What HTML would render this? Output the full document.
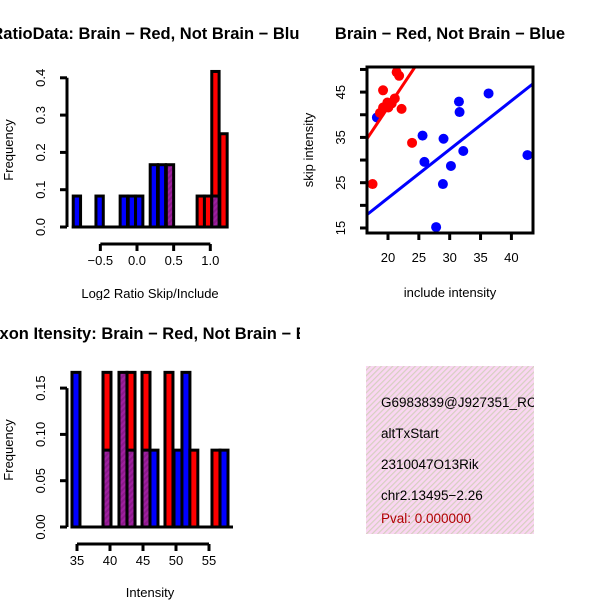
<!DOCTYPE html>
<html><head><meta charset="utf-8"><style>
body{margin:0;background:#fff}
svg{display:block;font-family:"Liberation Sans",Arial,sans-serif}
</style></head><body>
<svg id="chart" width="600" height="600" xmlns="http://www.w3.org/2000/svg">
<defs>
<pattern id="hatch" width="4" height="4" patternUnits="userSpaceOnUse" patternTransform="rotate(45)">
<rect width="4" height="4" fill="#a020a0"/><rect width="2" height="4" fill="#8b1a8b"/>
</pattern>
<pattern id="pink" width="4" height="4" patternUnits="userSpaceOnUse" patternTransform="rotate(45)">
<rect width="4" height="4" fill="#fad6f2"/><rect width="1.2" height="4" fill="#d6d0c0"/>
</pattern>
<clipPath id="cl1"><rect x="0" y="0" width="300" height="300"/></clipPath>
<clipPath id="cl3"><rect x="0" y="300" width="300" height="300"/></clipPath>
<clipPath id="sc"><rect x="367" y="67" width="166" height="166"/></clipPath>
<clipPath id="tb"><rect x="366" y="366" width="168" height="168"/></clipPath>
</defs>
<g id="p1"></g>
<g id="p2"></g>
<g id="p3"></g>
<g clip-path="url(#tb)">
<rect x="366" y="366" width="168" height="168" fill="url(#pink)"/>
<g font-size="13.5" fill="#000">
<text x="381" y="407">G6983839@J927351_RC</text>
<text x="381" y="438">altTxStart</text>
<text x="381" y="469">2310047O13Rik</text>
<text x="381" y="500">chr2.13495−2.26</text>
<text x="381" y="523" fill="#b00000">Pval: 0.000000</text>
</g></g>
</svg>
<script>
// Histogram 1 data
const h1Bins=[-0.87,-0.56,-0.23,-0.12,-0.02,0.18,0.29,0.40,0.82,0.92,1.02,1.13];
const h1Red=[0,0,0,0,0,0,0,0.167,0.083,0.083,0.417,0.25];
const h1Blue=[0.083,0.083,0.083,0.083,0.083,0.167,0.167,0.167,0,0,0.083,0];
const h1XTicks=[-0.5,0,0.5,1.0];
const h1XLabels=["−0.5","0.0","0.5","1.0"];
const h1YTicks=[0,0.1,0.2,0.3,0.4];
const h1YLabels=["0.0","0.1","0.2","0.3","0.4"];
// Histogram 2 data
const h2Bins=[34.24,38.94,41.36,42.58,44.85,46.06,48.33,49.7,50.9,52.1,55.45,56.67];
const h2Red=[0,0.167,0.167,0.167,0.167,0,0.167,0,0,0.083,0.083,0];
const h2Blue=[0.167,0.083,0.167,0.083,0.083,0.083,0,0.083,0.167,0,0,0.083];
const h2XTicks=[35,40,45,50,55];
const h2YTicks=[0,0.05,0.10,0.15];
const h2YLabels=["0.00","0.05","0.10","0.15"];
// Scatter data
const blueX=[18.2,25.6,25.9,27.8,29.0,28.9,30.2,31.5,31.6,32.2,36.3,42.6];
const blueY=[39.4,35.4,29.6,15.2,34.7,24.7,28.7,42.9,40.6,32.0,44.7,31.1];
const redX=[17.5,19.2,19.2,19.9,20.05,21.1,21.4,21.8,22.2,23.9,18.7,20.6];
const redY=[24.7,45.4,41.6,42.7,41.6,43.6,49.4,48.6,41.3,33.8,40.4,42.5];
const blueFit=[16.55,17.9,43.55,46.9];
const redFit=[16.55,34.6,24.5,50.8];
const scXTicks=[20,25,30,35,40];
const scYTicks=[15,20,25,30,35,40,45,50];
const scYLabels=["15","","25","","35","","45",""];

const NS="http://www.w3.org/2000/svg";
function mk(parent,tag,attrs,txt){const e=document.createElementNS(NS,tag);for(const k in attrs)e.setAttribute(k,attrs[k]);if(txt!==undefined)e.textContent=txt;parent.appendChild(e);return e;}
const SW=3;
function hist(g,bins,red,blue,w,xs,ys,base){
  for(let i=0;i<bins.length;i++){
    const x0=xs(bins[i]),x1=xs(bins[i]+w);
    const mx=Math.max(red[i],blue[i]),mn=Math.min(red[i],blue[i]);
    if(mx<=0)continue;
    const col=red[i]>blue[i]?'#ff0000':'#0000ff';
    const r=mk(g,'rect',{x:x0,y:ys(mx),width:x1-x0,height:base-ys(mx),fill:(red[i]===blue[i])?'url(#hatch)':col,stroke:'#000','stroke-width':SW});
    
    
    if(mn>0&&red[i]!==blue[i]){
      const p=mk(g,'rect',{x:x0,y:ys(mn),width:x1-x0,height:base-ys(mn),fill:'url(#hatch)',stroke:'#000','stroke-width':SW});
      
      
    }
  }
}
function yaxis(g,x,ticks,labels,ys){
  mk(g,'line',{x1:x,x2:x,y1:ys(ticks[0]),y2:ys(ticks[ticks.length-1]),stroke:'#000','stroke-width':SW});
  ticks.forEach((t,i)=>{
    mk(g,'line',{x1:x-7,x2:x,y1:ys(t),y2:ys(t),stroke:'#000','stroke-width':SW});
    if(labels[i]){const tx=mk(g,'text',{x:0,y:0,transform:`translate(${x-22},${ys(t)}) rotate(-90)`,'text-anchor':'middle','font-size':13},labels[i]);
    
    }
  });
}
function xaxis(g,y,ticks,labels,xs){
  mk(g,'line',{x1:xs(ticks[0]),x2:xs(ticks[ticks.length-1]),y1:y,y2:y,stroke:'#000','stroke-width':SW});
  ticks.forEach((t,i)=>{
    mk(g,'line',{x1:xs(t),x2:xs(t),y1:y,y2:y+7,stroke:'#000','stroke-width':SW});
    const tx=mk(g,'text',{x:xs(t),y:y+21,'text-anchor':'middle','font-size':13},labels[i]);
    
    
  });
}
// Panel 1
{const g=document.getElementById('p1');g.setAttribute('clip-path','url(#cl1)');
const xs=v=>137+v*73.3, ys=v=>227-v*373;
hist(g,h1Bins,h1Red,h1Blue,0.1,xs,ys,227);
mk(g,'line',{x1:xs(-0.89),x2:xs(1.23),y1:227,y2:227,stroke:'#000','stroke-width':SW});
yaxis(g,67,h1YTicks,h1YLabels,ys);
xaxis(g,244,h1XTicks,h1XLabels,xs);
const t=mk(g,'text',{x:150,y:39,'text-anchor':'middle','font-size':16.5,'font-weight':'bold'},'RatioData: Brain − Red, Not Brain − Blue');

const xl=mk(g,'text',{x:150,y:298,'text-anchor':'middle','font-size':13},'Log2 Ratio Skip/Include');

const yl=mk(g,'text',{x:0,y:0,transform:'translate(13,150) rotate(-90)','text-anchor':'middle','font-size':13},'Frequency');
}
// Panel 3
{const g=document.getElementById('p3');g.setAttribute('clip-path','url(#cl3)');
const xs=v=>77+(v-35)*6.6, ys=v=>527-v*926;
hist(g,h2Bins,h2Red,h2Blue,1.21,xs,ys,527);
mk(g,'line',{x1:72,x2:233,y1:527,y2:527,stroke:'#000','stroke-width':SW});
yaxis(g,67,h2YTicks,h2YLabels,ys);
xaxis(g,544,h2XTicks,h2XTicks.map(String),xs);
const t=mk(g,'text',{x:160,y:339,'text-anchor':'middle','font-size':16.5,'font-weight':'bold'},'Exon Itensity: Brain − Red, Not Brain − Blue');

const xl=mk(g,'text',{x:150,y:597,'text-anchor':'middle','font-size':13},'Intensity');

const yl=mk(g,'text',{x:0,y:0,transform:'translate(13,450) rotate(-90)','text-anchor':'middle','font-size':13},'Frequency');
}
// Panel 2 scatter
{const g=document.getElementById('p2');
const xs=v=>388+(v-20)*6.17, ys=v=>228-(v-15)*4.53;
const pts=mk(g,'g',{'clip-path':'url(#sc)'});
blueX.forEach((x,i)=>{const c=mk(pts,'circle',{cx:xs(x),cy:ys(blueY[i]),r:5,fill:'#0000ff'});
});
redX.forEach((x,i)=>{const c=mk(pts,'circle',{cx:xs(x),cy:ys(redY[i]),r:5,fill:'#ff0000'});
});
const bl=mk(pts,'line',{x1:xs(blueFit[0]),y1:ys(blueFit[1]),x2:xs(blueFit[2]),y2:ys(blueFit[3]),stroke:'#0000ff','stroke-width':3});

const rl=mk(pts,'line',{x1:xs(redFit[0]),y1:ys(redFit[1]),x2:xs(redFit[2]),y2:ys(redFit[3]),stroke:'#ff0000','stroke-width':3});

mk(g,'rect',{x:367,y:67,width:166,height:166,fill:'none',stroke:'#000','stroke-width':SW});
yaxis(g,367,scYTicks,scYLabels,ys);
scXTicks.forEach(tk=>{mk(g,'line',{x1:xs(tk),x2:xs(tk),y1:233,y2:240,stroke:'#000','stroke-width':SW});
const tx=mk(g,'text',{x:xs(tk),y:262,'text-anchor':'middle','font-size':13},String(tk));
});
const t=mk(g,'text',{x:450,y:39,'text-anchor':'middle','font-size':16.5,'font-weight':'bold'},'Brain − Red, Not Brain − Blue');

const xl=mk(g,'text',{x:450,y:297,'text-anchor':'middle','font-size':13},'include intensity');

const yl=mk(g,'text',{x:0,y:0,transform:'translate(313,150) rotate(-90)','text-anchor':'middle','font-size':13},'skip intensity');
}
</script>
</body></html>
